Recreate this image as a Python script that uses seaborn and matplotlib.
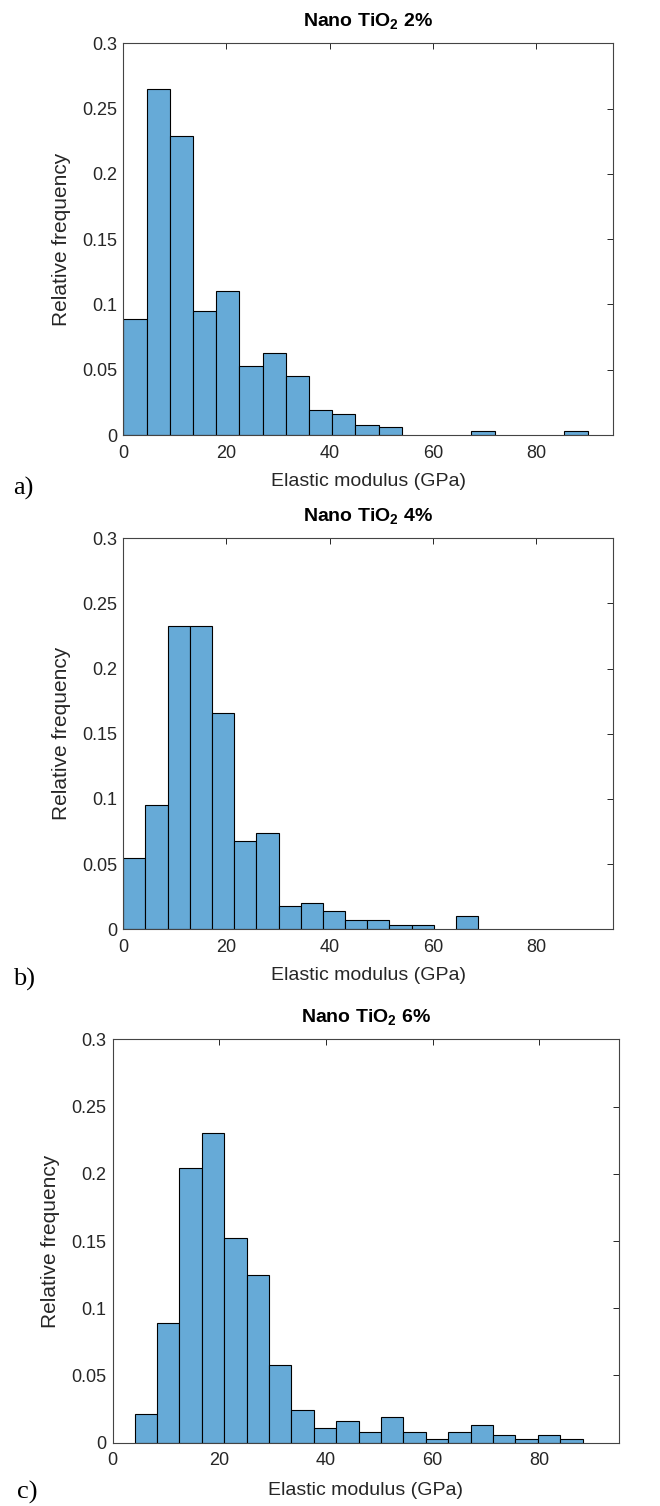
import numpy as np
import pandas as pd
import matplotlib
matplotlib.use("Agg")
import matplotlib.pyplot as plt
import seaborn as sns

# ---- data (relative frequencies) ----
titles = [r"Nano TiO$_\mathbf{2}$ 2%", r"Nano TiO$_\mathbf{2}$ 4%", r"Nano TiO$_\mathbf{2}$ 6%"]
panel_tags = ["a)", "b)", "c)"]

freq_2pct = [0.089, 0.265, 0.229, 0.095, 0.110, 0.053, 0.063, 0.045, 0.019, 0.016,
             0.008, 0.006, 0.0, 0.0, 0.0, 0.003, 0.0, 0.0, 0.0, 0.003]
freq_4pct = [0.055, 0.095, 0.233, 0.233, 0.166, 0.068, 0.074, 0.018, 0.020, 0.014,
             0.007, 0.007, 0.0036, 0.0036, 0.0, 0.010]
freq_6pct = [0.021, 0.089, 0.204, 0.230, 0.152, 0.125, 0.058, 0.024, 0.011, 0.016,
             0.008, 0.019, 0.008, 0.003, 0.008, 0.013, 0.0055, 0.003, 0.0055, 0.003]

bin_start = [0.0, 0.0, 4.1]   # GPa
bin_width = [4.5, 4.3, 4.2]   # GPa

x_ticks = [0, 20, 40, 60, 80]
y_ticks = [0, 0.05, 0.1, 0.15, 0.2, 0.25, 0.3]
y_ticklabels = ["0", "0.05", "0.1", "0.15", "0.2", "0.25", "0.3"]

# ---- style ----
sns.set_theme(style="white")
plt.rcParams["font.family"] = ["Liberation Sans", "DejaVu Sans"]
plt.rcParams["mathtext.fontset"] = "custom"
plt.rcParams["mathtext.rm"] = "Liberation Sans"
plt.rcParams["mathtext.bf"] = "Liberation Sans:bold"

W, H = 660, 1506
fig = plt.figure(figsize=(W / 100, H / 100), dpi=100)

# axes boxes in pixels: left, top, right, bottom
boxes = [(123.3, 43.3, 613.3, 435.0),
         (123.3, 538.3, 613.3, 929.3),
         (112.7, 1039.3, 619.3, 1442.7)]
ylabel_right = [71, 71, 60]
tag_pos = [(13, 488), (13, 979), (17, 1492)]

bar_color = "#66AAD7"
ink = "#262626"

for i, freqs in enumerate([freq_2pct, freq_4pct, freq_6pct]):
    l, t, r, b = boxes[i]
    ax = fig.add_axes([l / W, 1 - b / H, (r - l) / W, (b - t) / H])
    n = len(freqs)
    edges = [float(bin_start[i] + bin_width[i] * k) for k in range(n + 1)]
    centers = [(edges[k] + edges[k + 1]) / 2 for k in range(n)]
    df = pd.DataFrame({"modulus": centers, "freq": [float(f) for f in freqs]})
    sns.histplot(data=df, x="modulus", weights="freq", bins=edges, ax=ax,
                 stat="count", color=bar_color, edgecolor="black",
                 linewidth=0.8, alpha=1.0)
    for p in ax.patches:
        if p.get_height() <= 0:
            p.set_visible(False)
    ax.set_xlim(0, 95)
    ax.set_ylim(0, 0.3)
    ax.set_xticks(x_ticks)
    ax.set_xticklabels([str(v) for v in x_ticks])
    ax.set_yticks(y_ticks)
    ax.set_yticklabels(y_ticklabels)
    ax.tick_params(direction="in", length=4, width=0.7, color=ink,
                   top=True, right=True, labelsize=13, labelcolor=ink)
    ax.tick_params(axis="x", pad=7)
    ax.tick_params(axis="y", pad=4.5)
    for s in ax.spines.values():
        s.set_color("#444444")
        s.set_linewidth(0.8)
    ax.set_xlabel("Elastic modulus (GPa)", fontsize=14, color=ink)
    ax.set_ylabel("Relative frequency", fontsize=15, color=ink)
    ax.xaxis.set_label_coords(0.5, -0.097)
    ax.xaxis.label.set_va("top")
    ax.yaxis.set_label_coords((ylabel_right[i] - l) / (r - l), 0.5)
    ax.set_title(titles[i], fontsize=14, fontweight="bold", color="black", pad=12)
    fig.text(tag_pos[i][0] / W, 1 - tag_pos[i][1] / H, panel_tags[i],
             family=["Liberation Serif", "DejaVu Serif"], fontsize=19,
             ha="left", va="center", color="black")

fig.savefig("out.png", dpi=100)
